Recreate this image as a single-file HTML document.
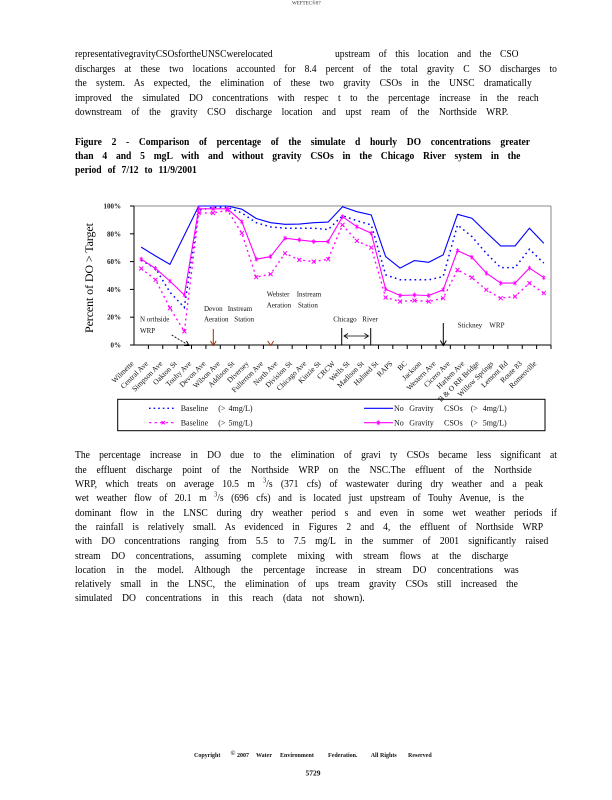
<!DOCTYPE html>
<html>
<head>
<meta charset="utf-8">
<style>
  html,body{margin:0;padding:0;background:#fff;}
  body{width:612px;height:800px;position:relative;overflow:hidden;font-family:"Liberation Serif","Times New Roman",serif;color:#000;}
  .ln{position:absolute;left:75px;height:13px;line-height:13px;font-size:11px;transform:scaleX(0.87);transform-origin:0 0;text-align:justify;text-align-last:justify;white-space:normal;overflow:visible;}
  .b{font-weight:bold;}
  svg{position:absolute;left:0;top:0;}
  sup{font-size:7px;line-height:0;}
</style>
</head>
<body>

<!-- Paragraph 1 -->
<div class="ln" style="top:48px;width:228px;text-align:left;text-align-last:left;">representativegravityCSOsfortheUNSCwerelocated</div>
<div class="ln" style="top:48px;left:335px;width:211px;">upstream of this location and the CSO</div>
<div class="ln" style="top:63px;width:554px;">discharges at these two locations accounted for 8.4 percent of the total gravity C SO discharges to</div>
<div class="ln" style="top:77px;width:525px;">the system. As expected, the elimination of these two gravity CSOs in the UNSC dramatically</div>
<div class="ln" style="top:92px;width:533px;">improved the simulated DO concentrations with respec t to the percentage increase in the reach</div>
<div class="ln" style="top:106px;width:498px;">downstream of the gravity CSO discharge location and upst ream of the Northside WRP.</div>

<!-- Caption -->
<div class="ln b" style="top:135.5px;width:523px;">Figure 2 - Comparison of percentage of the simulate d hourly DO concentrations greater</div>
<div class="ln b" style="top:149.5px;width:512px;">than 4 and 5 mgL with and without gravity CSOs in the Chicago River system in the</div>
<div class="ln b" style="top:163.5px;width:140px;">period of 7/12 to 11/9/2001</div>

<!-- Paragraph 2 -->
<div class="ln" style="top:449px;width:554px;">The percentage increase in DO due to the elimination of gravi ty CSOs became less significant at</div>
<div class="ln" style="top:463.5px;width:525px;">the effluent discharge point of the Northside WRP on the NSC.The effluent of the Northside</div>
<div class="ln" style="top:477.5px;width:538px;">WRP, which treats on average 10.5 m <sup>3</sup>/s (371 cfs) of wastewater during dry weather and a peak</div>
<div class="ln" style="top:492px;width:516px;">wet weather flow of 20.1 m <sup>3</sup>/s (696 cfs) and is located just upstream of Touhy Avenue, is the</div>
<div class="ln" style="top:506.5px;width:554px;">dominant flow in the LNSC during dry weather period s and even in some wet weather periods if</div>
<div class="ln" style="top:520.5px;width:538px;">the rainfall is relatively small. As evidenced in Figures 2 and 4, the effluent of Northside WRP</div>
<div class="ln" style="top:535px;width:544px;">with DO concentrations ranging from 5.5 to 7.5 mg/L in the summer of 2001 significantly raised</div>
<div class="ln" style="top:549.5px;width:498px;">stream DO concentrations, assuming complete mixing with stream flows at the discharge</div>
<div class="ln" style="top:563.5px;width:510px;">location in the model. Although the percentage increase in stream DO concentrations was</div>
<div class="ln" style="top:578px;width:509px;">relatively small in the LNSC, the elimination of ups tream gravity CSOs still increased the</div>
<div class="ln" style="top:592px;width:333px;">simulated DO concentrations in this reach (data not shown).</div>

<svg width="612" height="800" viewBox="0 0 612 800" xmlns="http://www.w3.org/2000/svg" font-family="Liberation Serif, Times New Roman, serif">
  <defs>
    <marker id="mx" markerUnits="userSpaceOnUse" markerWidth="7" markerHeight="7" refX="3.5" refY="3.5" overflow="visible">
      <path d="M1.5,1.5 L5.5,5.5 M1.5,5.5 L5.5,1.5" stroke="#FF00FF" stroke-width="1" fill="none"/>
    </marker>
    <marker id="mp" markerUnits="userSpaceOnUse" markerWidth="7" markerHeight="7" refX="3.5" refY="3.5" overflow="visible">
      <path d="M2,2 L5,5 M2,5 L5,2 M3.5,1 L3.5,6" stroke="#FF00FF" stroke-width="0.8" fill="none"/>
    </marker>
  </defs>

  <!-- header -->
  <text x="292" y="4.5" font-size="5" fill="#333">WEFTEC®07</text>

  <!-- plot frame -->
  <line x1="134" y1="206" x2="551" y2="206" stroke="#888" stroke-width="1"/>
  <line x1="551" y1="206" x2="551" y2="345" stroke="#888" stroke-width="1"/>
  <line x1="134" y1="206" x2="134" y2="345.5" stroke="#000" stroke-width="1"/>
  <line x1="134" y1="345" x2="551" y2="345" stroke="#000" stroke-width="1"/>

  <!-- y ticks -->
  <g stroke="#000" stroke-width="1">
    <line x1="130" y1="206" x2="134" y2="206"/>
    <line x1="130" y1="233.8" x2="134" y2="233.8"/>
    <line x1="130" y1="261.6" x2="134" y2="261.6"/>
    <line x1="130" y1="289.4" x2="134" y2="289.4"/>
    <line x1="130" y1="317.2" x2="134" y2="317.2"/>
    <line x1="130" y1="345" x2="134" y2="345"/>
  </g>
  <g font-size="7" font-weight="bold" text-anchor="end" fill="#222">
    <text x="121" y="208.5">100%</text>
    <text x="121" y="236.3">80%</text>
    <text x="121" y="264.1">60%</text>
    <text x="121" y="291.9">40%</text>
    <text x="121" y="319.7">20%</text>
    <text x="121" y="347.5">0%</text>
  </g>
  <text transform="translate(93,278) rotate(-90)" text-anchor="middle" font-size="12" textLength="110" lengthAdjust="spacing">Percent of DO &gt; Target</text>

  <!-- x ticks -->
  <g stroke="#000" stroke-width="1">
    <line x1="148.38" y1="345" x2="148.38" y2="349"/>
    <line x1="162.76" y1="345" x2="162.76" y2="349"/>
    <line x1="177.14" y1="345" x2="177.14" y2="349"/>
    <line x1="191.52" y1="345" x2="191.52" y2="349"/>
    <line x1="205.90" y1="345" x2="205.90" y2="349"/>
    <line x1="220.28" y1="345" x2="220.28" y2="349"/>
    <line x1="234.66" y1="345" x2="234.66" y2="349"/>
    <line x1="249.03" y1="345" x2="249.03" y2="349"/>
    <line x1="263.41" y1="345" x2="263.41" y2="349"/>
    <line x1="277.79" y1="345" x2="277.79" y2="349"/>
    <line x1="292.17" y1="345" x2="292.17" y2="349"/>
    <line x1="306.55" y1="345" x2="306.55" y2="349"/>
    <line x1="320.93" y1="345" x2="320.93" y2="349"/>
    <line x1="335.31" y1="345" x2="335.31" y2="349"/>
    <line x1="349.69" y1="345" x2="349.69" y2="349"/>
    <line x1="364.07" y1="345" x2="364.07" y2="349"/>
    <line x1="378.45" y1="345" x2="378.45" y2="349"/>
    <line x1="392.83" y1="345" x2="392.83" y2="349"/>
    <line x1="407.21" y1="345" x2="407.21" y2="349"/>
    <line x1="421.59" y1="345" x2="421.59" y2="349"/>
    <line x1="435.97" y1="345" x2="435.97" y2="349"/>
    <line x1="450.34" y1="345" x2="450.34" y2="349"/>
    <line x1="464.72" y1="345" x2="464.72" y2="349"/>
    <line x1="479.10" y1="345" x2="479.10" y2="349"/>
    <line x1="493.48" y1="345" x2="493.48" y2="349"/>
    <line x1="507.86" y1="345" x2="507.86" y2="349"/>
    <line x1="522.24" y1="345" x2="522.24" y2="349"/>
    <line x1="536.62" y1="345" x2="536.62" y2="349"/>
    <line x1="551" y1="345" x2="551" y2="349"/>
  </g>

  <!-- x labels -->
  <g font-size="7.5" text-anchor="end" fill="#111">
    <text transform="translate(134.2,364) rotate(-45)">Wilmette</text>
    <text transform="translate(148.6,364) rotate(-45)">Central Ave</text>
    <text transform="translate(163.0,364) rotate(-45)">Simpson Ave</text>
    <text transform="translate(177.3,364) rotate(-45)">Oakton St</text>
    <text transform="translate(191.7,364) rotate(-45)">Touhy Ave</text>
    <text transform="translate(206.1,364) rotate(-45)">Devon Ave</text>
    <text transform="translate(220.5,364) rotate(-45)">Wilson Ave</text>
    <text transform="translate(234.8,364) rotate(-45)">Addison St</text>
    <text transform="translate(249.2,364) rotate(-45)">Diversey</text>
    <text transform="translate(263.6,364) rotate(-45)">Fullerton Ave</text>
    <text transform="translate(278.0,364) rotate(-45)">North Ave</text>
    <text transform="translate(292.4,364) rotate(-45)">Division St</text>
    <text transform="translate(306.7,364) rotate(-45)">Chicago Ave</text>
    <text transform="translate(321.1,364) rotate(-45)">Kinzie St</text>
    <text transform="translate(335.5,364) rotate(-45)">CRCW</text>
    <text transform="translate(349.9,364) rotate(-45)">Wells St</text>
    <text transform="translate(364.3,364) rotate(-45)">Madison St</text>
    <text transform="translate(378.6,364) rotate(-45)">Halsted St</text>
    <text transform="translate(393.0,364) rotate(-45)">RAPS</text>
    <text transform="translate(407.4,364) rotate(-45)">BC</text>
    <text transform="translate(421.8,364) rotate(-45)">Jackson</text>
    <text transform="translate(436.2,364) rotate(-45)">Western Ave</text>
    <text transform="translate(450.5,364) rotate(-45)">Cicero Ave</text>
    <text transform="translate(464.9,364) rotate(-45)">Harlem Ave</text>
    <text transform="translate(479.3,364) rotate(-45)">B &amp; O RR Bridge</text>
    <text transform="translate(493.7,364) rotate(-45)">Willow Springs</text>
    <text transform="translate(508.1,364) rotate(-45)">Lemont Rd</text>
    <text transform="translate(522.4,364) rotate(-45)">Route 83</text>
    <text transform="translate(536.8,364) rotate(-45)">Romeoville</text>
  </g>

  <!-- series: blue dotted (baseline >4) -->
  <polyline fill="none" stroke="#0000FF" stroke-width="1.5" stroke-dasharray="1.6,3.4"
    points="141.19,260.2 155.57,268.5 169.95,292.2 184.33,307.5 198.71,210.2 213.09,207.4 227.47,207.4 241.84,213.0 256.22,222.7 270.60,226.9 284.98,228.2 299.36,228.2 313.74,228.2 328.12,229.6 342.50,215.7 356.88,220.7 371.26,224.9 385.64,274.8 400.02,279.8 414.40,279.8 428.78,279.8 443.16,276.6 457.53,224.9 471.91,236.6 486.29,253.3 500.67,267.6 515.05,267.6 529.43,249.2 543.81,263.1"/>

  <!-- series: blue solid (no gravity >4) -->
  <polyline fill="none" stroke="#0000FF" stroke-width="1.1"
    points="141.19,247.1 155.57,256.0 169.95,264.4 184.33,235.2 198.71,206 213.09,206 227.47,206 241.84,209.2 256.22,218.5 270.60,222.7 284.98,224.3 299.36,224.1 313.74,222.7 328.12,222.1 342.50,206.7 356.88,211.7 371.26,215.0 385.64,256.6 400.02,268.1 414.40,260.6 428.78,262.3 443.16,254.9 457.53,214.3 471.91,218.2 486.29,232.4 500.67,245.9 515.05,245.9 529.43,228.2 543.81,243.3"/>

  <!-- series: magenta dotted (baseline >5) -->
  <polyline fill="none" stroke="#FF00FF" stroke-width="1.3" stroke-dasharray="2,3.2"
    marker-start="url(#mx)" marker-mid="url(#mx)" marker-end="url(#mx)"
    points="141.19,268.5 155.57,279.8 169.95,308.0 184.33,331.4 198.71,213.0 213.09,213.0 227.47,210.2 241.84,233.2 256.22,277.2 270.60,274.1 284.98,253.3 299.36,259.9 313.74,261.6 328.12,259.2 342.50,224.9 356.88,240.9 371.26,247.6 385.64,297.5 400.02,301.5 414.40,300.5 428.78,301.5 443.16,298.2 457.53,269.9 471.91,277.6 486.29,289.8 500.67,298.2 515.05,296.5 529.43,283.1 543.81,293.2"/>

  <!-- series: magenta solid (no gravity >5) -->
  <polyline fill="none" stroke="#FF00FF" stroke-width="1.1"
    marker-start="url(#mp)" marker-mid="url(#mp)" marker-end="url(#mp)"
    points="141.19,259.2 155.57,268.5 169.95,281.1 184.33,295.0 198.71,208.8 213.09,208.8 227.47,208.8 241.84,221.7 256.22,259.2 270.60,256.6 284.98,238.2 299.36,239.9 313.74,241.6 328.12,241.6 342.50,216.7 356.88,226.7 371.26,233.2 385.64,289.1 400.02,295.5 414.40,295.0 428.78,295.5 443.16,289.8 457.53,250.6 471.91,257.2 486.29,273.1 500.67,283.1 515.05,283.1 529.43,268.1 543.81,277.6"/>

  <!-- annotations -->
  <g font-size="7" fill="#111">
    <text x="140" y="321.5">N orthside</text>
    <text x="140" y="333">WRP</text>
    <text x="204" y="311">Devon</text>
    <text x="204" y="321.5">Aeration</text>
    <text x="227.7" y="311">Instream</text>
    <text x="234.3" y="321.5">Station</text>
    <text x="266.7" y="296.5">Webster</text>
    <text x="266.7" y="307.5">Aeration</text>
    <text x="296.7" y="296.5">Instream</text>
    <text x="298" y="307.5">Station</text>
    <text x="333.3" y="321.5">Chicago</text>
    <text x="362.3" y="321.5">River</text>
    <text x="457.7" y="327.5">Stickney</text>
    <text x="489.3" y="327.5">WRP</text>
  </g>
  <!-- Northside arrow -->
  <line x1="171.7" y1="335" x2="189" y2="345.5" stroke="#000" stroke-width="0.9" stroke-dasharray="2,1.5"/>
  <path d="M184,345.5 L189,345.5 L186.5,341" fill="none" stroke="#000" stroke-width="0.9"/>
  <!-- Devon arrow -->
  <line x1="213.3" y1="329" x2="213.3" y2="345.5" stroke="#993300" stroke-width="1"/>
  <path d="M210.5,341 L213.3,345.5 L216.1,341" fill="none" stroke="#993300" stroke-width="1"/>
  <!-- Webster arrowhead -->
  <path d="M267.7,341 L270.7,345.5 L273.7,341" fill="none" stroke="#993300" stroke-width="1"/>
  <!-- Chicago River bracket -->
  <line x1="341.7" y1="328" x2="341.7" y2="345" stroke="#000" stroke-width="1"/>
  <line x1="370.7" y1="328" x2="370.7" y2="345" stroke="#000" stroke-width="1"/>
  <line x1="344" y1="336" x2="368.5" y2="336" stroke="#000" stroke-width="0.8"/>
  <path d="M348,333.5 L344,336 L348,338.5 M364.5,333.5 L368.5,336 L364.5,338.5" fill="none" stroke="#000" stroke-width="0.8"/>
  <!-- Stickney arrow -->
  <line x1="443.3" y1="323" x2="443.3" y2="345.5" stroke="#000" stroke-width="1"/>
  <path d="M440.3,340.5 L443.3,345.5 L446.3,340.5" fill="none" stroke="#000" stroke-width="1"/>

  <!-- legend -->
  <rect x="117.7" y="399.3" width="427.3" height="31.4" fill="none" stroke="#000" stroke-width="1"/>
  <line x1="149" y1="408.3" x2="175" y2="408.3" stroke="#0000FF" stroke-width="1.3" stroke-dasharray="1.6,3"/>
  <line x1="149" y1="422.7" x2="175" y2="422.7" stroke="#FF00FF" stroke-width="1.2" stroke-dasharray="2.5,3"/>
  <path d="M161.5,421 L165,424.4 M161.5,424.4 L165,421" stroke="#FF00FF" stroke-width="1"/>
  <line x1="364" y1="408.3" x2="393" y2="408.3" stroke="#0000FF" stroke-width="1.1"/>
  <line x1="364" y1="422.7" x2="393" y2="422.7" stroke="#FF00FF" stroke-width="1.1"/>
  <path d="M376.8,421 L379.8,424.4 M376.8,424.4 L379.8,421 M378.3,420.2 L378.3,425.2" stroke="#FF00FF" stroke-width="0.8"/>
  <g font-size="8" fill="#111">
    <text x="180.7" y="411">Baseline</text>
    <text x="218.3" y="411">(&gt;</text>
    <text x="228.5" y="411">4mg/L)</text>
    <text x="180.7" y="425.5">Baseline</text>
    <text x="218.3" y="425.5">(&gt;</text>
    <text x="228.5" y="425.5">5mg/L)</text>
    <text x="394" y="411">No</text>
    <text x="409.3" y="411">Gravity</text>
    <text x="444" y="411">CSOs</text>
    <text x="470.7" y="411">(&gt;</text>
    <text x="482.7" y="411">4mg/L)</text>
    <text x="394" y="425.5">No</text>
    <text x="409.3" y="425.5">Gravity</text>
    <text x="444" y="425.5">CSOs</text>
    <text x="470.7" y="425.5">(&gt;</text>
    <text x="482.7" y="425.5">5mg/L)</text>
  </g>

  <!-- footer -->
  <g font-size="6" font-weight="bold" fill="#111">
    <text x="194" y="757">Copyright</text>
    <text x="230.5" y="755" font-size="6.5">©</text>
    <text x="237" y="757">2007</text>
    <text x="256" y="757">Water</text>
    <text x="280" y="757">Environment</text>
    <text x="328" y="757">Federation.</text>
    <text x="370.7" y="757">All</text>
    <text x="380" y="757">Rights</text>
    <text x="408" y="757">Reserved</text>
  </g>
  <text x="305.5" y="775.5" font-size="7.5" font-weight="bold" fill="#111">5729</text>
</svg>
</body>
</html>
